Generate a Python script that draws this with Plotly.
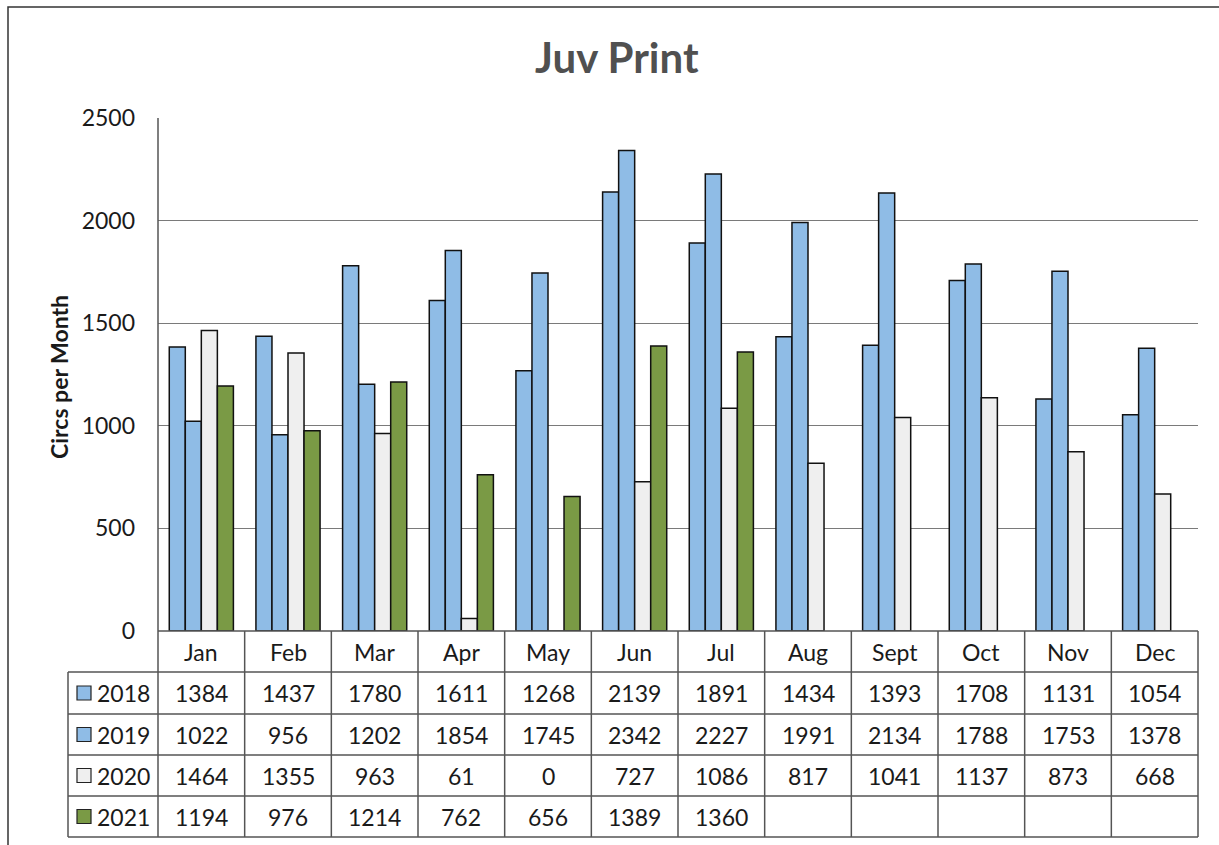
import plotly.graph_objects as go

months = ["Jan", "Feb", "Mar", "Apr", "May", "Jun", "Jul", "Aug", "Sept", "Oct", "Nov", "Dec"]
years = ["2018", "2019", "2020", "2021"]
v2018 = [1384, 1437, 1780, 1611, 1268, 2139, 1891, 1434, 1393, 1708, 1131, 1054]
v2019 = [1022, 956, 1202, 1854, 1745, 2342, 2227, 1991, 2134, 1788, 1753, 1378]
v2020 = [1464, 1355, 963, 61, 0, 727, 1086, 817, 1041, 1137, 873, 668]
v2021 = [1194, 976, 1214, 762, 656, 1389, 1360, None, None, None, None, None]
series = [v2018, v2019, v2020, v2021]
colors = ["#8FBCE6", "#8FBCE6", "#EFEFEF", "#7A9A45"]

W, H = 1219, 845
L, R, T, B = 158, 1198, 118, 631
FONT = "Lato"

def px(x):
    return (x - L) / (R - L)

def py(y):
    return (B - y) / (B - T)

fig = go.Figure()
for name, vals, c in zip(years, series, colors):
    fig.add_trace(go.Bar(x=months, y=vals, name=name, marker=dict(color=c, line=dict(color="#111111", width=1.5)),
                         showlegend=False))

shapes = []
line_c = "#555555"
# outer border
shapes.append(dict(type="rect", xref="paper", yref="paper", x0=px(8), x1=px(1240), y0=py(7), y1=py(870),
                   line=dict(color="#333333", width=1.5), layer="below"))
# table geometry
col_w = (R - L) / 12
row_tops = [B, 672, 714, 755, 796, 837]
for i, yy in enumerate(row_tops):
    x0 = L if i == 0 else 68
    shapes.append(dict(type="line", xref="paper", yref="paper", x0=px(x0), x1=px(R), y0=py(yy), y1=py(yy),
                       line=dict(color=line_c, width=1.5)))
shapes.append(dict(type="line", xref="paper", yref="paper", x0=px(68), x1=px(68), y0=py(672), y1=py(837),
                   line=dict(color=line_c, width=1.5)))
shapes.append(dict(type="line", xref="paper", yref="paper", x0=px(L), x1=px(L), y0=py(T), y1=py(837),
                   line=dict(color=line_c, width=1.5)))
for i in range(1, 13):
    xx = L + col_w * i
    shapes.append(dict(type="line", xref="paper", yref="paper", x0=px(xx), x1=px(xx), y0=py(B), y1=py(837),
                       line=dict(color=line_c, width=1.5)))

annotations = []
tfont = dict(family=FONT, size=23, color="#1a1a1a")
for j, m in enumerate(months):
    cx = L + col_w * (j + 0.5)
    annotations.append(dict(x=px(cx), y=py((row_tops[0] + row_tops[1]) / 2), xref="paper", yref="paper",
                            text=m, showarrow=False, font=tfont, xanchor="center", yanchor="middle"))
    for r, vals in enumerate(series):
        v = vals[j]
        if v is None:
            continue
        annotations.append(dict(x=px(cx), y=py((row_tops[r + 1] + row_tops[r + 2]) / 2), xref="paper", yref="paper",
                                text=str(v), showarrow=False, font=tfont, xanchor="center", yanchor="middle"))
for r, (name, c) in enumerate(zip(years, colors)):
    yc = (row_tops[r + 1] + row_tops[r + 2]) / 2
    shapes.append(dict(type="rect", xref="paper", yref="paper", x0=px(77), x1=px(91), y0=py(yc - 7), y1=py(yc + 7),
                       fillcolor=c, line=dict(color="#222222", width=1.2)))
    annotations.append(dict(x=px(95), y=py(yc), xref="paper", yref="paper", text=name, showarrow=False,
                            font=tfont, xanchor="left", yanchor="middle"))

annotations.append(dict(x=px(59), y=py(377), xref="paper", yref="paper", text="<b>Circs per Month</b>",
                        showarrow=False, textangle=-90, font=dict(family=FONT, size=23, color="#1a1a1a"),
                        xanchor="center", yanchor="middle"))
annotations.append(dict(x=px(617), y=py(57), xref="paper", yref="paper", text="<b>Juv Print</b>",
                        showarrow=False, font=dict(family=FONT, size=42, color="#505050"),
                        xanchor="center", yanchor="middle"))

fig.update_layout(
    width=W, height=H,
    margin=dict(l=L, r=W - R, t=T, b=H - B, pad=0),
    paper_bgcolor="white", plot_bgcolor="white",
    barmode="group", bargap=0.26, bargroupgap=0,
    xaxis=dict(showticklabels=False, showgrid=False, zeroline=False, showline=False, ticks=""),
    yaxis=dict(range=[0, 2500], tickvals=[0, 500, 1000, 1500, 2000, 2500], showgrid=True, gridcolor="#7a7a7a",
               gridwidth=1.2, zeroline=False, showline=False, ticks="", ticklabelstandoff=22,
               tickfont=dict(family=FONT, size=23, color="#1a1a1a")),
    shapes=shapes, annotations=annotations,
)

fig.write_html("out.html")
